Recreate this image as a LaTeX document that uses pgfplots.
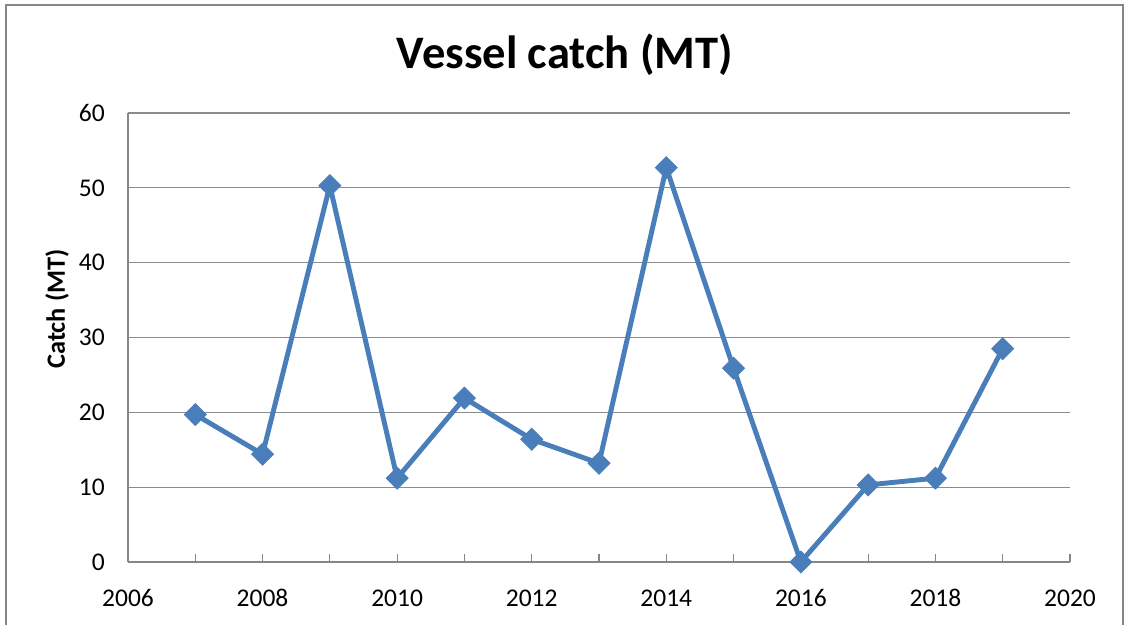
\documentclass[border=0pt]{standalone}
\usepackage{pgfplots}
\pgfplotsset{compat=1.18}
\usepackage{fontspec}
\setmainfont{Carlito}
\definecolor{linecol}{HTML}{4A7EBB}
\definecolor{axgray}{HTML}{868686}
\definecolor{gridgray}{HTML}{8C8C8C}
\begin{document}
\begin{tikzpicture}
% picture is 1125 x 625 px, 1px = 0.02cm
\useasboundingbox (0,0) rectangle (22.5cm,12.5cm);
\draw[axgray, line width=1.3pt] (0.12cm,-1cm) rectangle (22.46cm,12.4cm);
\node[font=\fontsize{26.5}{32}\selectfont\bfseries] at (11.3cm,11.4cm) {Vessel catch (MT)};
\node[font=\fontsize{15}{18}\selectfont\bfseries, rotate=90] at (1.14cm,6.32cm) {Catch (MT)};
\begin{axis}[
    at={(2.56cm,1.26cm)}, anchor=south west,
    scale only axis,
    width=18.84cm, height=8.98cm,
    xmin=2006, xmax=2020, ymin=0, ymax=60,
    xtick={2006,2008,...,2020},
    minor x tick num=1,
    ytick={0,10,...,60},
    axis x line*=bottom, axis y line*=left,
    axis line style={axgray, line width=0.6pt},
    x axis line style={-}, y axis line style={-},
    ymajorgrids,
    grid style={gridgray, line width=0.6pt},
    ytick style={draw=none},
    xtick style={axgray, line width=0.6pt},
    major tick length=0.16cm, minor tick length=0.16cm,
    tick align=inside,
    /pgf/number format/assume math mode=true,
    /pgf/number format/1000 sep={},
    tick label style={font=\fontsize{14.5}{17}\selectfont},
    xticklabel style={anchor=base, yshift=-0.9cm},
    yticklabel style={xshift=-0.34cm},
]
\addplot[linecol, line width=2.8pt, mark=square*, mark size=4.4pt,
    mark options={rotate=45, fill=linecol, draw=linecol, line width=0.5pt}]
coordinates {
    (2007,19.7) (2008,14.4) (2009,50.3) (2010,11.2) (2011,21.9)
    (2012,16.4) (2013,13.2) (2014,52.7) (2015,25.9) (2016,0)
    (2017,10.3) (2018,11.2) (2019,28.5)
};
\end{axis}
\end{tikzpicture}
\end{document}
